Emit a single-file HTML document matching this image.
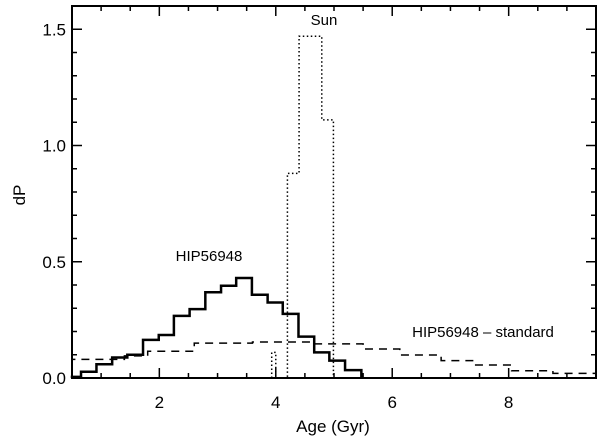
<!DOCTYPE html>
<html><head><meta charset="utf-8"><style>body{margin:0;background:#fff}svg{display:block}text{font-family:"Liberation Sans",sans-serif;fill:#000}</style></head>
<body>
<svg id="c" width="600" height="439"></svg>
<script>
const xTicks=[2,4,6,8];
const yTicks=[0,0.5,1.0,1.5];
const yTickLabels=["0.0","0.5","1.0","1.5"];
const hipEdges=[0.5,0.655,0.92,1.19,1.45,1.72,1.99,2.25,2.52,2.79,3.06,3.32,3.59,3.86,4.12,4.39,4.66,4.92,5.19,5.47];
const hipVals=[0.005,0.027,0.059,0.088,0.10,0.164,0.185,0.267,0.296,0.369,0.397,0.43,0.358,0.325,0.276,0.178,0.11,0.075,0.034];
const stdEdges=[0.5,1.4,1.8,2.6,3.6,4.6,5.5,6.13,6.84,7.4,8.05,8.76,9.5];
const stdVals=[0.08,0.095,0.115,0.15,0.155,0.147,0.125,0.099,0.075,0.056,0.031,0.02];
const sunEdges=[3.93,4.0,4.2,4.4,4.79,4.99];
const sunVals=[0.11,0,0.88,1.47,1.11];
const L=72,R=596,T=6,B=378,X0=0.5,X1=9.5,Y0=0,Y1=1.6;
const sx=v=>L+(v-X0)/(X1-X0)*(R-L), sy=v=>B-(v-Y0)/(Y1-Y0)*(B-T);
const svg=document.getElementById('c'),NS='http://www.w3.org/2000/svg';
function mk(t,a,p){const e=document.createElementNS(NS,t);for(const k in a)e.setAttribute(k,a[k]);(p||svg).appendChild(e);return e;}
function step(edges,vals){let d='M'+sx(edges[0])+','+sy(0);for(let i=0;i<vals.length;i++){d+='L'+sx(edges[i])+','+sy(vals[i])+'L'+sx(edges[i+1])+','+sy(vals[i]);}d+='L'+sx(edges[edges.length-1])+','+sy(0);return d;}
let p=mk('path',{d:step(stdEdges,stdVals),fill:'none',stroke:'#000','stroke-width':1.5,'stroke-dasharray':'8,6'});


p=mk('path',{d:step(sunEdges,sunVals),fill:'none',stroke:'#000','stroke-width':1.5,'stroke-dasharray':'1.5,2.5'});


p=mk('path',{d:step(hipEdges,hipVals),fill:'none',stroke:'#000','stroke-width':2.5});


const f=mk('rect',{x:L,y:T,width:R-L,height:B-T,fill:'none',stroke:'#000','stroke-width':2});


const tg=mk('g',{stroke:'#000','stroke-width':1.5});
for(let v=0.5;v<=9.5;v+=0.5){const maj=Math.abs(v%2)<1e-6;const len=maj?10:5;mk('line',{x1:sx(v),x2:sx(v),y1:B,y2:B-len},tg);mk('line',{x1:sx(v),x2:sx(v),y1:T,y2:T+len},tg);}
for(let i=0;i<=16;i++){const v=i/10;const len=(i%5==0)?10:5;mk('line',{x1:L,x2:L+len,y1:sy(v),y2:sy(v)},tg);mk('line',{x1:R,x2:R-len,y1:sy(v),y2:sy(v)},tg);}
xTicks.forEach(v=>{const t=mk('text',{x:sx(v),y:B+30,'text-anchor':'middle','font-size':17});t.textContent=v;});
yTicks.forEach((v,i)=>{const t=mk('text',{x:L-6,y:sy(v)+6,'text-anchor':'end','font-size':17});t.textContent=yTickLabels[i];});
function lab(txt,x,y,fs,name,extra){const t=mk('text',Object.assign({x:x,y:y,'font-size':fs,'text-anchor':'middle'},extra||{}));t.textContent=txt;return t;}
lab('Age (Gyr)',333,432,17,'x-axis-title');
lab('dP',25,195,17,'y-axis-title',{transform:'rotate(-90 25 195)'});
lab('Sun',324,25,15,'sun-label');
lab('HIP56948',209,261,15,'hip56948-label');
lab('HIP56948 – standard',483,337,15,'standard-label');
</script>
</body></html>
